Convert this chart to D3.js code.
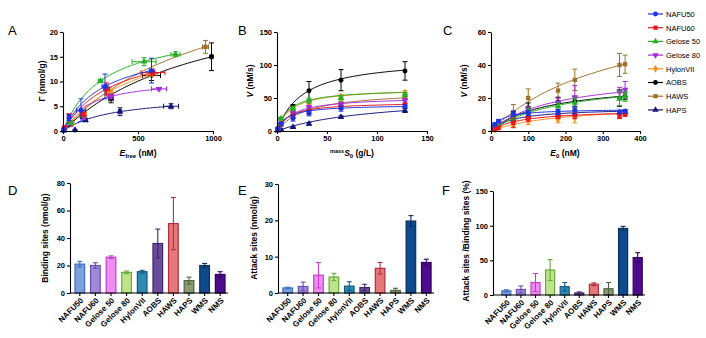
<!DOCTYPE html>
<html>
<head>
<meta charset="utf-8">
<script src="https://cdn.jsdelivr.net/npm/d3@7"></script>
<style>
body { margin: 0; background: #fff; }
text { font-family: "Liberation Sans", Arial, sans-serif; }
</style>
</head>
<body>
<svg id="fig" width="706" height="338"></svg>
<script>
"use strict";

// ---- series shared by A, B, C ----
const seriesNames = ["NAFU50", "NAFU60", "Gelose 50", "Gelose 80", "HylonVII", "AOBS", "HAWS", "HAPS"];
const seriesColors = ["#1a33e6", "#e8141c", "#22b022", "#a52ad8", "#ff8c1a", "#000000", "#a0702a", "#14147a"];
const seriesSymbols = ["circle", "square", "triangle", "triangleDown", "diamond", "circle", "square", "triangle"];

// ---- panel A: Gamma vs Efree ----
const aX = [
    [5, 40, 120, 280, 590],
    [10, 40, 130, 290, 600],
    [5, 50, 130, 250, 540, 750],
    [10, 50, 140, 320, 640],
    [5, 60, 140, 310, 590],
    [5, 50, 130, 320, 590, 990],
    [5, 60, 140, 300, 950],
    [5, 80, 150, 380, 720]
];
const aY = [
    [0.2, 2.7, 4.2, 9.0, 12.2],
    [0.7, 3.0, 3.4, 8.5, 11.8],
    [0.2, 1.6, 3.3, 10.1, 14.0, 15.5],
    [0.5, 1.5, 2.8, 7.0, 8.5],
    [0.3, 1.5, 3.4, 8.0, 11.5],
    [0.2, 1.3, 3.0, 6.5, 11.2, 15.0],
    [0.3, 1.7, 3.2, 8.0, 17.0],
    [0.1, 0.2, 2.2, 3.9, 5.0]
];
const aXErr = [
    [5, 10, 30, 20, 15],
    [5, 10, 15, 20, 80],
    [3, 10, 15, 15, 80, 30],
    [5, 10, 10, 15, 50],
    [5, 10, 15, 20, 30],
    [3, 10, 15, 15, 60, 10],
    [5, 10, 15, 20, 20],
    [3, 5, 10, 10, 50]
];
const aYErr = [
    [0.3, 0.6, 2.3, 2.5, 2.5],
    [0.3, 0.5, 0.5, 1.2, 0.5],
    [0.2, 0.3, 0.5, 0.3, 0.8, 0.5],
    [0.2, 0.3, 0.4, 0.5, 0.2],
    [0.2, 0.3, 0.5, 0.8, 0.5],
    [0.2, 0.3, 0.5, 0.8, 1.0, 2.8],
    [0.2, 0.3, 0.5, 0.8, 1.3],
    [0.1, 0.1, 0.3, 0.8, 0.5]
];
// Langmuir fit [Bmax, Kd]
const aFit = [[18, 280], [18.5, 342], [21.2, 274], [10.8, 174], [22.3, 554], [30, 990], [35.4, 1026], [7.3, 331]];

// ---- panel B: V vs mass S0 ----
const bS = [1, 4, 16, 32, 64, 128];
const bY = [
    [3, 11, 19, 27, 34, 37],
    [3, 11, 23, 29, 36, 39],
    [5, 19, 34, 46, 50, 55],
    [3, 10, 27, 36, 40, 46],
    [4, 14, 31, 42, 52, 58],
    [4, 18, 37, 61, 77, 91],
    [3, 9, 22, 32, 42, 53],
    [0.5, 2, 6, 11, 21, 31]
];
const bYErr = [
    [1, 2, 4, 4, 4, 3],
    [1, 2, 3, 3, 3, 3],
    [1, 2, 3, 4, 3, 3],
    [1, 2, 3, 3, 3, 3],
    [1, 2, 3, 3, 3, 3],
    [1, 2, 3, 14, 16, 14],
    [1, 2, 3, 3, 3, 3],
    [0.3, 1, 1, 2, 2, 3]
];
// Michaelis-Menten fit [Vmax, Km]
const bFit = [[40, 10], [44, 12], [64, 12], [52, 16], [65, 14], [111, 26], [62, 30], [55, 100]];

// ---- panel C: V vs E0 ----
const cE = [10, 20, 60, 100, 180, 225, 345, 360];
const cY = [
    [4, 6, 10.5, 11, 11.5, 12.5, 11.5, 12],
    [1, 2, 5, 7.5, 9, 9.5, 9, 10],
    [2, 4, 8, 12, 15, 17, 19.5, 21],
    [2, 4, 9, 13, 17, 20.5, 23.5, 25],
    [1, 2, 4, 6, 7, 8, 10, 11],
    [3, 5, 10, 14, 17.5, 18, 20, 21],
    [2, 3, 11, 20, 24.5, 31, 40, 40.5],
    [2, 3, 7, 9, 10, 10.5, 11, 11.5]
];
const cYErr = [
    [1, 1, 1.5, 1.5, 1.5, 2, 1, 1],
    [0.5, 1, 3, 1.5, 1.5, 2, 1.5, 1],
    [0.5, 1, 2, 2, 2, 3, 4, 3],
    [0.5, 1, 2, 2, 3, 7, 3, 5],
    [0.5, 1, 1.5, 2, 2, 3, 2, 2],
    [0.5, 1, 2, 3, 3, 3, 5, 2],
    [1, 2, 5, 5.5, 4.5, 6.5, 7, 5.5],
    [0.5, 1, 1.5, 1.5, 1.5, 1.5, 1, 1]
];
const cFit = [[13.5, 25], [13, 80], [32, 190], [35, 170], [16, 180], [30, 150], [80, 350], [14, 60]];

// ---- bar panels D, E, F ----
const barCats = ["NAFU50", "NAFU60", "Gelose 50", "Gelose 80", "HylonVII", "AOBS", "HAWS", "HAPS", "WMS", "NMS"];
const barFill = ["#7ba0dc", "#a08ad8", "#ef8ef0", "#bfe38a", "#2a8ab0", "#6a4c9c", "#e57878", "#8c9c70", "#0e4a8c", "#4c0c8c"];
const barStroke = ["#3d6ec0", "#6a50b0", "#c040c8", "#6aa83a", "#1a5a80", "#3e2a6a", "#b03040", "#506040", "#0a3060", "#300060"];
const dVals = [21, 20, 26, 15, 15.5, 36, 50.5, 9, 20, 13.5];
const dErr = [2, 2, 1, 1, 1, 10.5, 19, 2.5, 1.5, 2];
const eVals = [1.4, 1.8, 4.9, 4.4, 1.9, 1.5, 6.8, 0.7, 19.8, 8.4];
const eErr = [0.2, 1.2, 3.5, 1.0, 1.2, 0.9, 1.6, 0.6, 1.5, 0.9];
const fVals = [6, 8, 18, 36, 12, 3, 15.5, 9, 96, 54];
const fErr = [1.5, 5, 13, 15, 6, 1.5, 2, 9, 3, 7];

const svg = d3.select("#fig");

function symbolPath(name, size) {
    if (name === "triangleDown") {
        return d3.symbol().type(d3.symbolTriangle).size(size)();
    }
    const types = {circle: d3.symbolCircle, square: d3.symbolSquare, triangle: d3.symbolTriangle, diamond: d3.symbolDiamond};
    return d3.symbol().type(types[name]).size(size)();
}

function styleAxis(g) {
    g.selectAll("path, line").attr("stroke", "#000").attr("stroke-width", 1.1);
    g.selectAll("text").attr("font-size", 7.5).attr("font-weight", "bold").attr("fill", "#000")
        .style("font-family", '"Liberation Sans", Arial, sans-serif');
}

function panelLetter(txt, x, y) {
    svg.append("text").attr("x", x).attr("y", y).attr("font-size", 13).text(txt);
}

function drawScatter(cfg) {
    const x = d3.scaleLinear().domain(cfg.xDomain).range(cfg.xRange);
    const y = d3.scaleLinear().domain(cfg.yDomain).range(cfg.yRange);
    const g = svg.append("g");

    // fit curves, error bars and points, last series first
    for (let s = seriesNames.length - 1; s >= 0; s--) {
        const col = seriesColors[s];
        const xs = cfg.xs[s];
        const xmax = d3.max(xs);
        const fit = cfg.fit[s];
        const curve = d3.range(0, 81).map(i => {
            const xv = xmax * i / 80;
            return [xv, fit[0] * xv / (fit[1] + xv)];
        });
        g.append("path")
            .attr("d", d3.line().x(d => x(d[0])).y(d => y(d[1]))(curve))
            .attr("fill", "none").attr("stroke", col).attr("stroke-width", 1);

        const pts = xs.map((xv, i) => ({x: xv, y: cfg.ys[s][i],
            ye: cfg.yErr[s][i], xe: cfg.xErr ? cfg.xErr[s][i] : 0}));
        const eg = g.append("g").attr("stroke", col).attr("stroke-width", 1);
        pts.forEach(p => {
            const cx = x(p.x), cy = y(p.y);
            const y1 = y(Math.max(0, p.y - p.ye)), y2 = y(p.y + p.ye);
            eg.append("line").attr("x1", cx).attr("x2", cx).attr("y1", y1).attr("y2", y2);
            eg.append("line").attr("x1", cx - 2.5).attr("x2", cx + 2.5).attr("y1", y1).attr("y2", y1);
            eg.append("line").attr("x1", cx - 2.5).attr("x2", cx + 2.5).attr("y1", y2).attr("y2", y2);
            if (p.xe > 0) {
                const x1 = x(Math.max(0, p.x - p.xe)), x2 = x(p.x + p.xe);
                eg.append("line").attr("x1", x1).attr("x2", x2).attr("y1", cy).attr("y2", cy);
                eg.append("line").attr("x1", x1).attr("x2", x1).attr("y1", cy - 2.5).attr("y2", cy + 2.5);
                eg.append("line").attr("x1", x2).attr("x2", x2).attr("y1", cy - 2.5).attr("y2", cy + 2.5);
            }
        });
        g.selectAll(null).data(pts).join("path")
            .attr("d", symbolPath(seriesSymbols[s], 19))
            .attr("transform", d => `translate(${x(d.x)},${y(d.y)})` + (seriesSymbols[s] === "triangleDown" ? " rotate(180)" : ""))
            .attr("fill", col);
    }

    const yAx = svg.append("g").attr("transform", `translate(${cfg.xRange[0]},0)`)
        .call(d3.axisLeft(y).tickValues(cfg.yTicks).tickFormat(d3.format("d")).tickSize(3).tickSizeOuter(0).tickPadding(2));
    styleAxis(yAx);
    const xAx = svg.append("g").attr("transform", `translate(0,${cfg.yRange[0]})`)
        .call(d3.axisBottom(x).tickValues(cfg.xTicks).tickFormat(d3.format("d")).tickSize(3).tickSizeOuter(0).tickPadding(2));
    styleAxis(xAx);
    return {x, y};
}

function italicLabel(parts, x, y, rotate) {
    const t = svg.append("text").attr("font-size", 8.5).attr("font-weight", "bold")
        .attr("text-anchor", "middle")
        .attr("transform", `translate(${x},${y})` + (rotate ? " rotate(-90)" : ""));
    parts.forEach(p => {
        const ts = t.append("tspan").text(p.t);
        if (p.i) ts.attr("font-style", "italic");
        if (p.fs) ts.attr("font-size", p.fs);
        if (p.dy) ts.attr("dy", p.dy);
    });
    return t;
}

// ---- A ----
panelLetter("A", 8, 35);
drawScatter({xDomain: [0, 1000], xRange: [63, 213], yDomain: [0, 20], yRange: [131, 32],
    xTicks: [0, 500, 1000], yTicks: [0, 5, 10, 15, 20],
    xs: aX, ys: aY, xErr: aXErr, yErr: aYErr, fit: aFit});
italicLabel([{t: "Γ (nmol/g)"}], 45, 81, true);
italicLabel([{t: "E", i: true}, {t: "free", fs: 6, dy: 2}, {t: " (nM)", dy: -2}], 138, 156, false);

// ---- B ----
panelLetter("B", 238, 35);
drawScatter({xDomain: [0, 150], xRange: [277, 427], yDomain: [0, 150], yRange: [131, 32],
    xTicks: [0, 50, 100, 150], yTicks: [0, 50, 100, 150],
    xs: seriesNames.map(() => bS), ys: bY, yErr: bYErr, fit: bFit});
italicLabel([{t: "V", i: true}, {t: " (nM/s)"}], 253, 81, true);
italicLabel([{t: "mass", fs: 5.5, dy: -3}, {t: "S", i: true, dy: 3}, {t: "0", fs: 6, dy: 2}, {t: " (g/L)", dy: -2}], 352, 156, false);

// ---- C ----
panelLetter("C", 443, 35);
drawScatter({xDomain: [0, 400], xRange: [491, 640], yDomain: [0, 60], yRange: [131, 32],
    xTicks: [0, 100, 200, 300, 400], yTicks: [0, 20, 40, 60],
    xs: seriesNames.map(() => cE), ys: cY, yErr: cYErr, fit: cFit});
italicLabel([{t: "V", i: true}, {t: " (nM/s)"}], 467, 81, true);
italicLabel([{t: "E", i: true}, {t: "0", fs: 6, dy: 2}, {t: " (nM)", dy: -2}], 565, 156, false);

// legend
const legG = svg.append("g");
seriesNames.forEach((name, i) => {
    const ly = 14 + i * 13.7;
    legG.append("line").attr("x1", 648).attr("x2", 663).attr("y1", ly).attr("y2", ly)
        .attr("stroke", seriesColors[i]).attr("stroke-width", 1.2);
    legG.append("path").attr("d", symbolPath(seriesSymbols[i], 18))
        .attr("transform", `translate(655.5,${ly})` + (seriesSymbols[i] === "triangleDown" ? " rotate(180)" : ""))
        .attr("fill", seriesColors[i]);
    legG.append("text").attr("x", 666).attr("y", ly + 2.8).attr("font-size", 7.5).text(name);
});

// ---- bars ----
function drawBars(cfg) {
    const x = d3.scaleBand().domain(barCats).range(cfg.xRange).paddingInner(0.38).paddingOuter(0.19);
    const y = d3.scaleLinear().domain(cfg.yDomain).range(cfg.yRange);
    const g = svg.append("g");
    g.selectAll("rect").data(cfg.vals).join("rect")
        .attr("x", (d, i) => x(barCats[i]))
        .attr("y", d => y(d))
        .attr("width", x.bandwidth())
        .attr("height", d => y(0) - y(d))
        .attr("fill", (d, i) => barFill[i])
        .attr("stroke", (d, i) => barStroke[i])
        .attr("stroke-width", 1.2);
    cfg.vals.forEach((v, i) => {
        const cx = x(barCats[i]) + x.bandwidth() / 2;
        const y1 = y(Math.max(0, v - cfg.errs[i])), y2 = y(v + cfg.errs[i]);
        const eg = g.append("g").attr("stroke", barStroke[i]).attr("stroke-width", 1.1);
        eg.append("line").attr("x1", cx).attr("x2", cx).attr("y1", y1).attr("y2", y2);
        eg.append("line").attr("x1", cx - 2.5).attr("x2", cx + 2.5).attr("y1", y1).attr("y2", y1);
        eg.append("line").attr("x1", cx - 2.5).attr("x2", cx + 2.5).attr("y1", y2).attr("y2", y2);
    });
    const yAx = svg.append("g").attr("transform", `translate(${cfg.axisX},0)`)
        .call(d3.axisLeft(y).tickValues(cfg.yTicks).tickSize(3).tickSizeOuter(0).tickPadding(2));
    styleAxis(yAx);
    const xAx = svg.append("g").attr("transform", `translate(0,${cfg.yRange[0]})`);
    xAx.append("line").attr("x1", cfg.axisX).attr("x2", cfg.xRange[1]).attr("y1", 0).attr("y2", 0)
        .attr("stroke", "#000").attr("stroke-width", 1.1);
    barCats.forEach((c, i) => {
        const cx = x(c) + x.bandwidth() / 2;
        xAx.append("line").attr("x1", cx).attr("x2", cx).attr("y1", 0).attr("y2", 3)
            .attr("stroke", "#000").attr("stroke-width", 1.1);
        xAx.append("text").attr("transform", `translate(${cx + 2},${6}) rotate(-45)`)
            .attr("text-anchor", "end").attr("font-size", 8).attr("font-weight", "bold")
            .attr("dy", "0.35em").text(c);
    });
    italicLabel([{t: cfg.label}], cfg.labelX, cfg.labelY, true);
}

panelLetter("D", 8, 195);
drawBars({xRange: [72, 228], axisX: 70, yDomain: [0, 80], yRange: [293, 183], yTicks: [0, 20, 40, 60, 80],
    vals: dVals, errs: dErr, label: "Binding sites (nmol/g)", labelX: 48, labelY: 238});

panelLetter("E", 238, 195);
drawBars({xRange: [280, 434], axisX: 278, yDomain: [0, 30], yRange: [293, 184], yTicks: [0, 10, 20, 30],
    vals: eVals, errs: eErr, label: "Attack sites (nmol/g)", labelX: 257, labelY: 238});

panelLetter("F", 442, 195);
drawBars({xRange: [499, 645], axisX: 493, yDomain: [0, 150], yRange: [295, 191], yTicks: [0, 50, 100, 150],
    vals: fVals, errs: fErr, label: "Attack sites /Binding sites (%)", labelX: 469, labelY: 241});
</script>
</body>
</html>
